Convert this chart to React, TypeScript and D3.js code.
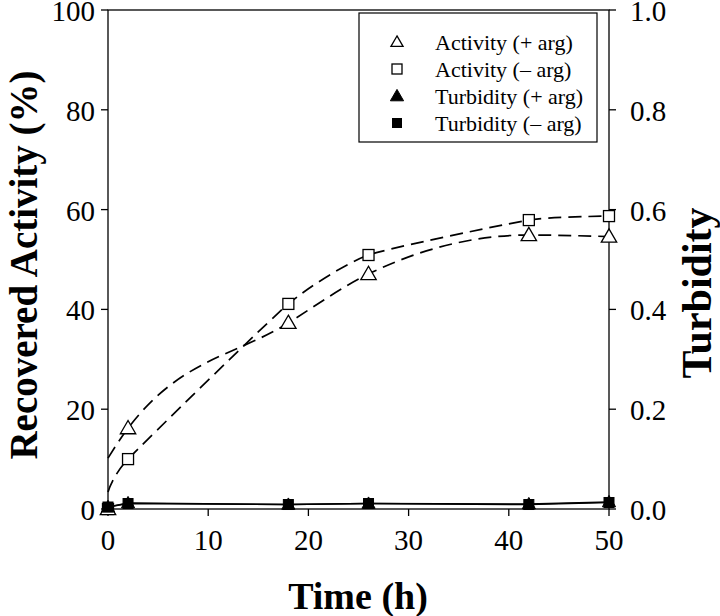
import React from "react";
import * as d3 from "d3";

const times = [0, 2, 18, 26, 42, 50];
const activityPlus = [0, 16.2, 37.3, 47.1, 54.9, 54.6];
const activityMinus = [0, 10.0, 41.1, 50.9, 57.9, 58.7];
const fitStart = [10.2, 3.4]; // dashed fit curves intercept at t=0 (+arg, -arg)
const turbidityPlus = [0.004, 0.012, 0.009, 0.011, 0.010, 0.014];
const turbidityMinus = [0.004, 0.011, 0.009, 0.011, 0.009, 0.013];
const xTicks = [0, 10, 20, 30, 40, 50];
const yTicks = [0, 20, 40, 60, 80, 100];
const y2Ticks = [0, 0.2, 0.4, 0.6, 0.8, 1.0];
const legendLabels = ["Activity (+ arg)", "Activity (\u2013 arg)", "Turbidity (+ arg)", "Turbidity (\u2013 arg)"];

const FONT = "'Liberation Serif', 'Times New Roman', serif";

export default function App() {
  const W = 720, H = 616;
  const x = d3.scaleLinear().domain([0, 50]).range([108, 609]);
  const y = d3.scaleLinear().domain([0, 100]).range([509, 10]);
  const y2 = d3.scaleLinear().domain([0, 1]).range([509, 10]);

  const fitLinePlus = d3.line<[number, number]>().x(d => x(d[0])).y(d => y(d[1])).curve(d3.curveMonotoneX);
  const fitLineMinus = d3.line<[number, number]>().x(d => x(d[0])).y(d => y(d[1])).curve(d3.curveCardinal.tension(0.5));
  const turbLine = d3.line<[number, number]>().x(d => x(d[0])).y(d => y2(d[1]));

  const fitData = (vals: number[], start: number): [number, number][] =>
    [[0, start] as [number, number]].concat(times.slice(1).map((t, i) => [t, vals[i + 1]] as [number, number]));

  const tri = (cx: number, cy: number, s: number) =>
    `M${cx},${cy - s * 0.55}L${cx + s * 0.55},${cy + s * 0.4}L${cx - s * 0.55},${cy + s * 0.4}Z`;

  const hollowTri = (s: number) => (cx: number, cy: number, k: string) => (
    <path key={k} d={tri(cx, cy, s)} fill="white" stroke="black" strokeWidth={1.3} />
  );
  const hollowSq = (s: number) => (cx: number, cy: number, k: string) => (
    <rect key={k} x={cx - s / 2} y={cy - s / 2} width={s} height={s} fill="white" stroke="black" strokeWidth={1.3} />
  );
  const fillTri = (s: number) => (cx: number, cy: number, k: string) => (
    <path key={k} d={tri(cx, cy, s)} fill="black" stroke="black" strokeWidth={1} />
  );
  const fillSq = (s: number) => (cx: number, cy: number, k: string) => (
    <rect key={k} x={cx - s / 2} y={cy - s / 2} width={s} height={s} fill="black" stroke="black" strokeWidth={1} />
  );

  const legendMarkers = [hollowTri(11), hollowSq(10), fillTri(12), fillSq(9)];

  return (
    <svg width={W} height={H} style={{ display: "block", position: "absolute", left: 0, top: 0 }} fontFamily={FONT}>
      <rect x={0} y={0} width={W} height={H} fill="white" />
      {/* frame */}
      <rect x={x(0)} y={y(100)} width={x(50) - x(0)} height={y(0) - y(100)} fill="none" stroke="black" strokeWidth={1.3} />
      {/* x ticks */}
      {xTicks.map(t => (
        <g key={"xt" + t}>
          <line x1={x(t)} x2={x(t)} y1={y(0)} y2={y(0) + 7} stroke="black" strokeWidth={1.3} />
          <text x={x(t)} y={y(0) + 41} fontSize={29} textAnchor="middle">{t}</text>
        </g>
      ))}
      {yTicks.map(t => (
        <g key={"yt" + t}>
          <line x1={x(0) - 7} x2={x(0)} y1={y(t)} y2={y(t)} stroke="black" strokeWidth={1.3} />
          <text x={x(0) - 13} y={y(t) + 11} fontSize={29} textAnchor="end">{t}</text>
        </g>
      ))}
      {y2Ticks.map(t => (
        <g key={"y2t" + t}>
          <line x1={x(50)} x2={x(50) + 7} y1={y2(t)} y2={y2(t)} stroke="black" strokeWidth={1.3} />
          <text x={x(50) + 21} y={y2(t) + 11} fontSize={29} textAnchor="start">{t.toFixed(1)}</text>
        </g>
      ))}
      {/* axis titles */}
      <text x={358} y={609} fontSize={38} fontWeight="bold" textAnchor="middle">Time (h)</text>
      <text transform={`translate(37,265) rotate(-90)`} fontSize={39} fontWeight="bold" textAnchor="middle">Recovered Activity (%)</text>
      <text transform={`translate(711,293) rotate(-90)`} fontSize={42} fontWeight="bold" textAnchor="middle">Turbidity</text>

      {/* fitted dashed curves */}
      <path d={fitLinePlus(fitData(activityPlus, fitStart[0])) || ""} fill="none" stroke="black" strokeWidth={1.7} strokeDasharray="13,7" />
      <path d={fitLineMinus(fitData(activityMinus, fitStart[1])) || ""} fill="none" stroke="black" strokeWidth={1.7} strokeDasharray="13,7" />
      {/* turbidity lines */}
      <path d={turbLine(times.map((t, i) => [t, turbidityMinus[i]] as [number, number])) || ""} fill="none" stroke="black" strokeWidth={1.5} />
      <path d={turbLine(times.map((t, i) => [t, turbidityPlus[i]] as [number, number])) || ""} fill="none" stroke="black" strokeWidth={1.5} />

      {/* markers */}
      {times.map((t, i) => hollowSq(11)(x(t), y(activityMinus[i]), "as" + i))}
      {times.map((t, i) => hollowTri(14)(x(t), y(activityPlus[i]), "at" + i))}
      {times.map((t, i) => fillSq(10)(x(t), y2(turbidityMinus[i]), "ts" + i))}
      {times.map((t, i) => fillTri(12)(x(t), y2(turbidityPlus[i]), "tt" + i))}

      {/* legend */}
      <rect x={359} y={13} width={238} height={129} fill="white" stroke="black" strokeWidth={1.2} />
      {legendLabels.map((lab, i) => (
        <g key={"lg" + i}>
          {legendMarkers[i](397, 42 + i * 27, "lm" + i)}
          <text x={435} y={42 + i * 27 + 8} fontSize={22}>{lab}</text>
        </g>
      ))}
    </svg>
  );
}
